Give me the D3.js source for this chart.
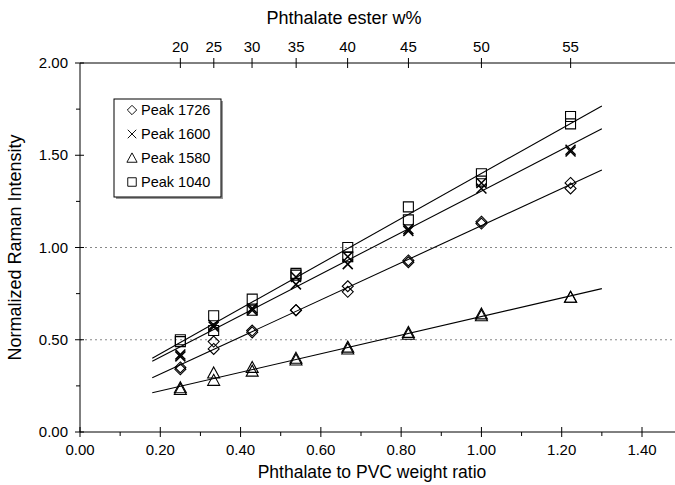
<!DOCTYPE html>
<html>
<head>
<meta charset="utf-8">
<script src="https://cdnjs.cloudflare.com/ajax/libs/d3/7.8.5/d3.min.js"></script>
<style>
  body { margin: 0; background: #fff; }
  svg text { font-family: "Liberation Sans", Arial, Helvetica, sans-serif; fill: #000; }
</style>
</head>
<body>
<div id="chart"></div>
<script>
// ratio of phthalate to PVC (x)
const ratios = [0.25, 0.333, 0.429, 0.538, 0.667, 0.818, 1.0, 1.222];
// top axis: phthalate ester weight percent
const esterTicks = [20, 25, 30, 35, 40, 45, 50, 55];

// two replicate readings per ratio
const peak1726a = [0.34, 0.45, 0.54, 0.66, 0.76, 0.92, 1.13, 1.32];
const peak1726b = [0.35, 0.49, 0.55, 0.66, 0.79, 0.93, 1.14, 1.35];
const peak1600a = [0.42, 0.58, 0.67, 0.80, 0.91, 1.09, 1.32, 1.53];
const peak1600b = [0.41, 0.57, 0.66, 0.84, 0.95, 1.10, 1.35, 1.52];
const peak1580a = [0.23, 0.28, 0.33, 0.39, 0.45, 0.53, 0.63, 0.73];
const peak1580b = [0.24, 0.32, 0.35, 0.40, 0.46, 0.54, 0.64, 0.73];
const peak1040a = [0.50, 0.63, 0.72, 0.86, 1.00, 1.22, 1.40, 1.71];
const peak1040b = [0.49, 0.55, 0.66, 0.85, 0.95, 1.15, 1.36, 1.67];

const fitRange = [0.18, 1.30];

const series = [
  { name: "Peak 1726", shape: "diamond", reps: [peak1726a, peak1726b] },
  { name: "Peak 1600", shape: "cross", reps: [peak1600a, peak1600b] },
  { name: "Peak 1580", shape: "triangle", reps: [peak1580a, peak1580b] },
  { name: "Peak 1040", shape: "square", reps: [peak1040a, peak1040b] }
];

const W = 675, H = 485;
const m = { left: 80, top: 63, right: 0, bottom: 53 };

const svg = d3.select("#chart").append("svg")
  .attr("width", W).attr("height", H);

// 1.40 sits at x=642; the frame runs on past the right edge
const x = d3.scaleLinear().domain([0, 1.4]).range([m.left, 642]);
const xMax = x.invert(W);
x.domain([0, xMax]).range([m.left, W]);
const y = d3.scaleLinear().domain([0, 2]).range([H - m.bottom, m.top]);

// dotted reference lines
[0.5, 1.0].forEach(v => {
  svg.append("line")
    .attr("x1", m.left).attr("x2", W)
    .attr("y1", y(v)).attr("y2", y(v))
    .attr("stroke", "#888").attr("stroke-width", 1)
    .attr("stroke-dasharray", "2,3");
});

// bottom axis
const xMajor = d3.range(0, 1.41, 0.2);
const xMinor = d3.range(0.1, 1.5, 0.2);
svg.append("line").attr("x1", m.left).attr("x2", W)
  .attr("y1", y(0)).attr("y2", y(0)).attr("stroke", "#000");
svg.selectAll(".xmaj").data(xMajor).enter().append("line")
  .attr("x1", d => x(d)).attr("x2", d => x(d))
  .attr("y1", y(0) - 5).attr("y2", y(0) + 5).attr("stroke", "#000");
svg.selectAll(".xmin").data(xMinor).enter().append("line")
  .attr("x1", d => x(d)).attr("x2", d => x(d))
  .attr("y1", y(0)).attr("y2", y(0) + 4).attr("stroke", "#000");
svg.selectAll(".xlab").data(xMajor).enter().append("text")
  .attr("x", d => x(d)).attr("y", y(0) + 23)
  .attr("text-anchor", "middle").style("font-size", "15px")
  .text(d => d3.format(".2f")(d));
svg.append("text").attr("x", 372).attr("y", 478)
  .attr("text-anchor", "middle").style("font-size", "17.5px")
  .text("Phthalate to PVC weight ratio");

// left axis
const yMajor = [0, 0.5, 1, 1.5, 2];
const yMinor = [0.25, 0.75, 1.25, 1.75];
svg.append("line").attr("x1", m.left).attr("x2", m.left)
  .attr("y1", y(0)).attr("y2", y(2)).attr("stroke", "#000");
svg.selectAll(".ymaj").data(yMajor).enter().append("line")
  .attr("x1", m.left - 5).attr("x2", m.left + 4)
  .attr("y1", d => y(d)).attr("y2", d => y(d)).attr("stroke", "#000");
svg.selectAll(".ymin").data(yMinor).enter().append("line")
  .attr("x1", m.left - 4).attr("x2", m.left)
  .attr("y1", d => y(d)).attr("y2", d => y(d)).attr("stroke", "#000");
svg.selectAll(".ylab").data(yMajor).enter().append("text")
  .attr("x", m.left - 12).attr("y", d => y(d) + 5)
  .attr("text-anchor", "end").style("font-size", "15px")
  .text(d => d3.format(".2f")(d));
svg.append("text")
  .attr("transform", "translate(21," + y(1) + ") rotate(-90)")
  .attr("text-anchor", "middle").style("font-size", "18px")
  .text("Normalized Raman Intensity");

// top axis (w% placed at its weight ratio)
const wToRatio = w => w / (100 - w);
svg.append("line").attr("x1", m.left).attr("x2", W)
  .attr("y1", y(2)).attr("y2", y(2)).attr("stroke", "#000");
svg.selectAll(".tmaj").data(esterTicks).enter().append("line")
  .attr("x1", d => x(wToRatio(d))).attr("x2", d => x(wToRatio(d)))
  .attr("y1", y(2) - 5).attr("y2", y(2) + 5).attr("stroke", "#000");
svg.selectAll(".tlab").data(esterTicks).enter().append("text")
  .attr("x", d => x(wToRatio(d))).attr("y", y(2) - 11)
  .attr("text-anchor", "middle").style("font-size", "15px")
  .text(d => d);
svg.append("text").attr("x", 344).attr("y", 24)
  .attr("text-anchor", "middle").style("font-size", "18px")
  .text("Phthalate ester w%");

// marker shapes
function markerPath(shape) {
  if (shape === "diamond") return "M0,-5.5L5.5,0L0,5.5L-5.5,0Z";
  if (shape === "square") return "M-5,-5H5V5H-5Z";
  if (shape === "triangle") return "M0,-6L6,5H-6Z";
  return "M-5,-5L5,5M-5,5L5,-5";
}

// least squares fit lines
function fit(xs, ys) {
  const mx = d3.mean(xs), my = d3.mean(ys);
  let sxy = 0, sxx = 0;
  xs.forEach((v, i) => { sxy += (v - mx) * (ys[i] - my); sxx += (v - mx) * (v - mx); });
  const b = sxy / sxx;
  return { b: b, a: my - b * mx };
}

series.forEach(s => {
  const xs = [], ys = [];
  s.reps.forEach(r => r.forEach((v, i) => { xs.push(ratios[i]); ys.push(v); }));
  const f = fit(xs, ys);
  svg.append("line")
    .attr("x1", x(fitRange[0])).attr("y1", y(f.a + f.b * fitRange[0]))
    .attr("x2", x(fitRange[1])).attr("y2", y(f.a + f.b * fitRange[1]))
    .attr("stroke", "#000").attr("stroke-width", 1.1);

  s.reps.forEach(r => {
    svg.selectAll(null).data(r).enter().append("path")
      .attr("transform", (d, i) => "translate(" + x(ratios[i]) + "," + y(d) + ")")
      .attr("d", markerPath(s.shape))
      .attr("fill", "none").attr("stroke", "#000")
      .attr("stroke-width", s.shape === "cross" ? 1.5 : 1.1);
  });
});

// legend
const lg = svg.append("g").attr("transform", "translate(114,99)");
lg.append("rect").attr("x", 2).attr("y", 2).attr("width", 107).attr("height", 98)
  .attr("fill", "#999");
lg.append("rect").attr("x", 0).attr("y", 0).attr("width", 107).attr("height", 98)
  .attr("fill", "#fff").attr("stroke", "#000");
series.forEach((s, i) => {
  const row = lg.append("g").attr("transform", "translate(0," + (11 + i * 24) + ")");
  row.append("path").attr("transform", "translate(18,0) scale(0.85)")
    .attr("d", markerPath(s.shape))
    .attr("fill", "none").attr("stroke", "#000").attr("stroke-width", 1.1);
  row.append("text").attr("x", 27).attr("y", 5)
    .style("font-size", "14.5px").text(s.name);
});
</script>
</body>
</html>
